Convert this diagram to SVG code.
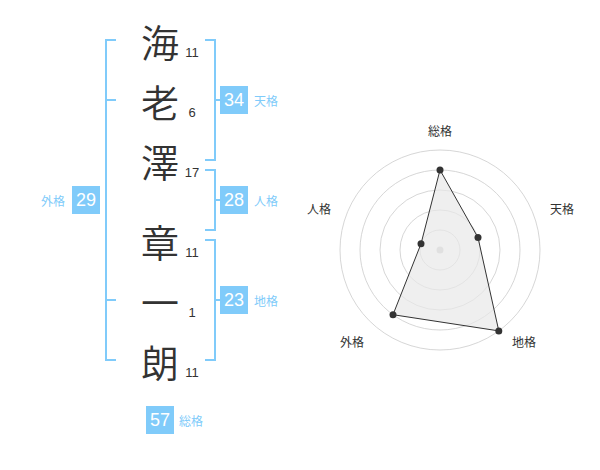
<svg xmlns="http://www.w3.org/2000/svg" width="600" height="470" viewBox="0 0 600 470">
<style>
.ch{font-family:"Noto Sans CJK JP","Noto Sans CJK SC",sans-serif;font-size:38px;font-weight:350;fill:#333;text-anchor:middle;dominant-baseline:central}
.num{font-family:"Liberation Sans",Arial,sans-serif;font-size:13px;fill:#333;text-anchor:middle}
.br{fill:none;stroke:#80cbfa;stroke-width:2}
.box{fill:#80cbfa}
.bn{font-family:"Liberation Sans",Arial,sans-serif;font-size:18px;fill:#fff;text-anchor:middle;dominant-baseline:central}
.lb{font-family:"Noto Sans CJK JP","Noto Sans CJK SC",sans-serif;font-size:12px;fill:#80cbfa;dominant-baseline:central}
.rl{font-family:"Noto Sans CJK JP","Noto Sans CJK SC",sans-serif;font-size:12px;fill:#333;text-anchor:middle;dominant-baseline:central}
.ring{fill:none;stroke:#cccccc;stroke-width:0.8}
.pt{fill:#333}
</style>
<rect width="600" height="470" fill="#fff"/>
<g id="connectors">
<path class="br" d="M116,40 H106 V360 H116 M106,100 H116 M106,300 H116"/>
<path class="br" d="M205,40 H215 V160 H205 M215,100 H222"/>
<path class="br" d="M205,170 H215 V230 H205 M215,200 H222"/>
<path class="br" d="M205,240 H215 V360 H205 M215,300 H222"/>
</g>
<g id="char1"><text class="ch" x="160" y="40">海</text><text class="num" x="192" y="57">11</text></g>
<g id="char2"><text class="ch" x="160" y="100">老</text><text class="num" x="192" y="117">6</text></g>
<g id="char3"><text class="ch" x="160" y="160">澤</text><text class="num" x="192" y="177">17</text></g>
<g id="char4"><text class="ch" x="160" y="240">章</text><text class="num" x="192" y="257">11</text></g>
<g id="char5"><text class="ch" x="160" y="300">一</text><text class="num" x="192" y="317">1</text></g>
<g id="char6"><text class="ch" x="160" y="360">朗</text><text class="num" x="192" y="377">11</text></g>
<g id="tenkaku"><rect class="box" x="220" y="86" width="28" height="28"/><text class="bn" x="234" y="100">34</text><text class="lb" x="254" y="100">天格</text></g>
<g id="jinkaku"><rect class="box" x="220" y="186" width="28" height="28"/><text class="bn" x="234" y="200">28</text><text class="lb" x="254" y="200">人格</text></g>
<g id="chikaku"><rect class="box" x="220" y="286" width="28" height="28"/><text class="bn" x="234" y="300">23</text><text class="lb" x="254" y="300">地格</text></g>
<g id="gaikaku"><rect class="box" x="72" y="186" width="28" height="28"/><text class="bn" x="86" y="200">29</text><text class="lb" x="41" y="200">外格</text></g>
<g id="soukaku"><rect class="box" x="146" y="406" width="28" height="28"/><text class="bn" x="160" y="420">57</text><text class="lb" x="179" y="420">総格</text></g>
<g id="radar">
<circle class="ring" cx="440" cy="250" r="20"/>
<circle class="ring" cx="440" cy="250" r="40"/>
<circle class="ring" cx="440" cy="250" r="60"/>
<circle class="ring" cx="440" cy="250" r="80"/>
<circle class="ring" cx="440" cy="250" r="100"/>
<circle cx="440" cy="250" r="3.5" fill="#ccc"/>
<polygon points="440,170 478,237.6 498.8,330.9 393,314.7 421,243.8" fill="#e8e8e8" fill-opacity="0.7" stroke="#333" stroke-width="1"/>
<circle class="pt" cx="440" cy="170" r="3.5"/>
<circle class="pt" cx="478" cy="237.6" r="3.5"/>
<circle class="pt" cx="498.8" cy="330.9" r="3.5"/>
<circle class="pt" cx="393" cy="314.7" r="3.5"/>
<circle class="pt" cx="421" cy="243.8" r="3.5"/>
<text class="rl" x="440" y="130">総格</text>
<text class="rl" x="562" y="208">天格</text>
<text class="rl" x="524" y="341">地格</text>
<text class="rl" x="352" y="341">外格</text>
<text class="rl" x="319" y="208">人格</text>
</g>
</svg>
